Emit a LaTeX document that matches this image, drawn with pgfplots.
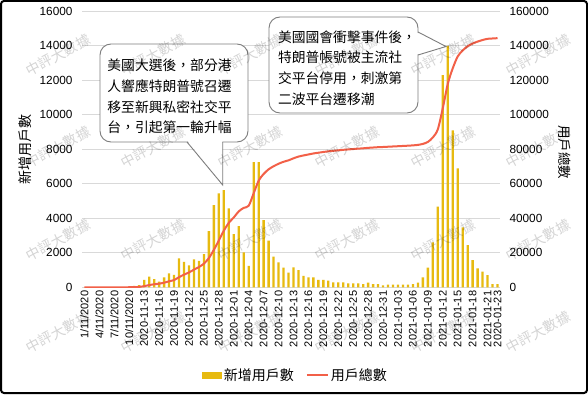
\documentclass[border=0pt]{standalone}
\usepackage{fontspec}
\setmainfont{Liberation Sans}
\newfontfamily\cjk{Noto Sans CJK TC}
\usepackage{pgfplots}
\pgfplotsset{compat=1.18}
\usepackage{pgfplotstable}

\definecolor{barc}{RGB}{231,186,16}
\definecolor{linec}{RGB}{242,96,72}
\definecolor{gridc}{RGB}{217,217,217}
\definecolor{boxc}{RGB}{125,125,125}

\pgfplotstableread{
idx new total
0 0 0
1 0 0
2 0 0
3 0 0
4 0 0
5 0 0
6 0 0
7 0 0
8 0 0
9 40 40
10 80 120
11 120 240
12 425 665
13 620 1285
14 480 1765
15 330 2095
16 580 2675
17 810 3485
18 714 4199
19 1680 5879
20 1470 7349
21 1270 8619
22 1620 10239
23 1525 11764
24 1930 13694
25 3260 16954
26 4770 21724
27 5440 27164
28 5640 32804
29 4580 37384
30 3090 40474
31 3550 44024
32 2030 46054
33 1240 47294
34 7250 54544
35 7250 61794
36 3900 65694
37 2700 68394
38 1780 70174
39 1450 71624
40 1140 72764
41 850 73614
42 1160 74774
43 1000 75774
44 656 76430
45 580 77010
46 580 77590
47 425 78015
48 425 78440
49 386 78826
50 290 79116
51 290 79406
52 290 79696
53 230 79926
54 230 80156
55 230 80386
56 190 80576
57 270 80846
58 190 81036
59 190 81226
60 115 81341
61 150 81491
62 150 81641
63 150 81791
64 150 81941
65 150 82091
66 190 82281
67 270 82551
68 580 83131
69 1140 84271
70 2600 86871
71 4670 91541
72 12300 103841
73 14000 117841
74 9100 126941
75 6900 133841
76 3470 137311
77 2450 139761
78 1580 141341
79 1100 142441
80 910 143351
81 700 144051
82 190 144241
83 190 144431
}\data

\begin{document}
\begin{tikzpicture}[x=1bp,y=1bp]
\path[use as bounding box] (0,0) rectangle (588,394);
\fill[white] (0,0) rectangle (588,394);
\begin{axis}[
  at={(82bp,106.7bp)}, anchor=south west,
  scale only axis, width=418bp, height=276bp,
  xmin=-0.5, xmax=83.5, ymin=0, ymax=16000,
  axis y line*=left, axis x line*=bottom,
  y axis line style={draw=none},
  x axis line style={draw=gridc, line width=0.8bp, -},
  ytick={0,2000,...,16000},
  ymajorgrids, grid style={draw=gridc, line width=0.8bp},
  major tick length=0pt,
  scaled y ticks=false,
  /pgf/number format/fixed,
  /pgf/number format/precision=0,
  /pgf/number format/1000 sep={},
  /pgf/number format/assume math mode=true,
  yticklabel style={font=\fontsize{11.8bp}{14bp}\selectfont, xshift=-6bp},
  xtick={0,3,...,81,83},
  xticklabels={1/11/2020,4/11/2020,7/11/2020,10/11/2020,2020-11-13,2020-11-16,2020-11-19,2020-11-22,2020-11-25,2020-11-28,2020-12-01,2020-12-04,2020-12-07,2020-12-10,2020-12-13,2020-12-16,2020-12-19,2020-12-22,2020-12-25,2020-12-28,2020-12-31,2021-01-03,2021-01-06,2021-01-09,2021-01-12,2021-01-15,2021-01-18,2021-01-21,2020-01-23},
  xticklabel style={rotate=90, anchor=east, font=\fontsize{11bp}{13bp}\selectfont},
  ylabel={新增用戶數},
  ylabel style={at={(axis description cs:-0.136,0.4975)}, anchor=center, font=\cjk\fontsize{14bp}{16bp}\selectfont},
  ybar, bar width=2.3bp,
]
\addplot[fill=barc, draw=none] table[x=idx,y=new]{\data};
\end{axis}
\begin{axis}[
  at={(82bp,106.7bp)}, anchor=south west,
  scale only axis, width=418bp, height=276bp,
  xmin=-0.5, xmax=83.5, ymin=0, ymax=160000,
  axis y line*=right, axis x line=none,
  y axis line style={draw=none},
  ytick={0,20000,...,160000},
  major tick length=0pt,
  scaled y ticks=false,
  /pgf/number format/fixed,
  /pgf/number format/precision=0,
  /pgf/number format/1000 sep={},
  /pgf/number format/assume math mode=true,
  yticklabel style={font=\fontsize{11.8bp}{14bp}\selectfont, xshift=6bp},
  ylabel={用戶總數},
  ylabel style={at={(axis description cs:1.1555,0.49)}, anchor=center, rotate=180, font=\cjk\fontsize{13.5bp}{16bp}\selectfont},
  legend columns=2,
  legend style={at={(axis description cs:0.511,-0.318)}, anchor=center, draw=none, fill=none,
    font=\cjk\fontsize{14bp}{16bp}\selectfont,
    /tikz/every even column/.append style={column sep=10bp}},
]
\addlegendimage{legend image code/.code={\fill[barc] (0bp,-3bp) rectangle (19bp,3bp);}}
\addlegendentry{新增用戶數}
\addplot[linec, line width=2bp, smooth, tension=0.5, mark=none,
  legend image code/.code={\draw[linec,line width=2bp] (0bp,0bp) -- (21bp,0bp);}] table[x=idx,y=total]{\data};
\addlegendentry{用戶總數}
\end{axis}

% callout 1
\draw[boxc, fill=white, line width=0.9bp, rounded corners=11bp] (100,252) rectangle (248,350);
\fill[white] (187.8,253) -- (222.3,253) -- (222.5,210) -- cycle;
\draw[boxc, line width=0.9bp] (187,252) -- (222.7,209) -- (222.7,252);
\node[font=\cjk\fontsize{13.8bp}{20.8bp}\selectfont, align=left, inner sep=0pt, anchor=center] at (169.5,297.5)
  {美國大選後，部分港\\人響應特朗普號召遷\\移至新興私密社交平\\台，引起第一輪升幅};
% callout 2
\draw[boxc, fill=white, line width=0.9bp, rounded corners=11bp] (269,281) rectangle (418,377);
\fill[white] (417,361.5) -- (417,339.5) -- (445,347.5) -- cycle;
\draw[boxc, line width=0.9bp] (418,362) -- (446,347.5) -- (418,339);
\node[font=\cjk\fontsize{13.8bp}{20.8bp}\selectfont, align=left, inner sep=0pt, anchor=center] at (347,326)
  {美國國會衝擊事件後，\\特朗普帳號被主流社\\交平台停用，刺激第\\二波平台遷移潮};

% watermarks
\foreach \xx in {58,153,250,347,443,538}{
  \foreach \yy in {339,247,154,62}{
    \node[rotate=28, text=black, text opacity=0.17, font=\cjk\fontsize{14bp}{16bp}\selectfont] at (\xx,\yy) {中評大數據};
  }
}
% frame
\draw[black, line width=2bp, rounded corners=3bp] (1,1) rectangle (587,393);
\end{tikzpicture}
\end{document}
